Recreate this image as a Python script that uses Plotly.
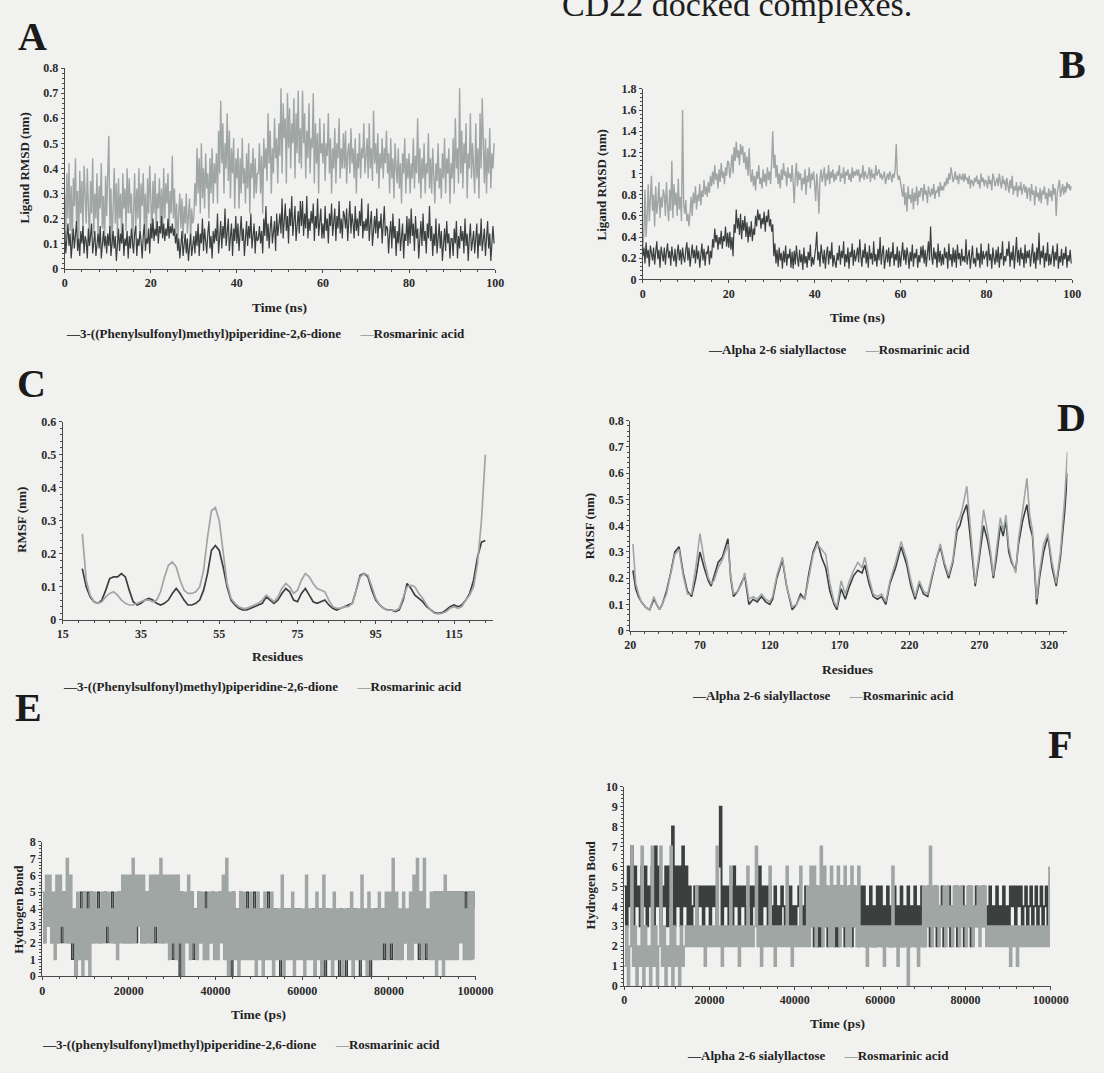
import plotly.graph_objects as go

W, H = 1104, 1073
DARK = "#3b3f3e"
LIGHT = "#a0a6a4"
PAGE = "#f1f1ef"
SERIF = "Liberation Serif"

# ---------------- A: ligand RMSD, CD22 small-molecule complexes (nm x 100, every 0.25 ns) ----------------
rmsd_a_phenyl = [
    15, 6, 12, 18, 9, 14, 4, 11, 16, 8, 13, 19, 7, 12, 5, 15, 10, 17, 6, 13,
    11, 4, 16, 9, 13, 18, 6, 12, 15, 5, 10, 14, 8, 17, 4, 12, 15, 9, 13, 6,
    14, 9, 17, 5, 12, 15, 8, 13, 3, 11, 16, 7, 14, 10, 18, 5, 12, 9, 15, 4,
    13, 8, 16, 11, 6, 14, 17, 5, 12, 9, 15, 11, 4, 13, 18, 7, 12, 10, 16, 6,
    18, 12, 20, 11, 16, 13, 19, 10, 17, 14, 21, 12, 18, 11, 16, 13, 20, 12, 17, 14,
    18, 13, 16, 10, 14, 7, 12, 4, 10, 15, 5, 11, 14, 6, 12, 3, 10, 14, 5, 11,
    13, 6, 15, 9, 18, 5, 14, 10, 20, 7, 16, 11, 6, 14, 19, 8, 13, 4, 15, 10,
    16, 11, 22, 6, 14, 19, 8, 17, 12, 24, 9, 15, 20, 7, 13, 18, 5, 16, 11, 21,
    10, 18, 7, 15, 21, 11, 16, 5, 13, 19, 9, 17, 12, 22, 8, 14, 18, 6, 15, 11,
    12, 17, 10, 15, 6, 20, 13, 25, 11, 18, 8, 16, 21, 10, 14, 19, 7, 22, 13, 17,
    22, 14, 28, 12, 19, 26, 15, 21, 10, 24, 17, 29, 13, 20, 25, 11, 18, 23, 14, 27,
    17, 27, 13, 22, 16, 29, 12, 20, 15, 23, 18, 26, 11, 21, 16, 28, 13, 19, 24, 12,
    18, 12, 25, 15, 20, 10, 22, 17, 26, 13, 19, 24, 11, 21, 16, 27, 14, 20, 12, 23,
    21, 16, 24, 11, 19, 27, 14, 22, 18, 12, 25, 15, 20, 13, 23, 17, 28, 12, 19, 15,
    20, 15, 26, 11, 18, 23, 9, 17, 21, 14, 24, 12, 19, 16, 22, 10, 18, 25, 13, 17,
    16, 6, 14, 19, 8, 22, 12, 17, 5, 15, 10, 20, 7, 13, 18, 4, 14, 11, 21, 9,
    20, 10, 24, 13, 18, 7, 21, 12, 16, 4, 14, 19, 9, 22, 11, 15, 6, 18, 12, 25,
    11, 17, 5, 14, 9, 20, 6, 13, 18, 8, 15, 3, 12, 16, 7, 19, 10, 14, 4, 12,
    12, 5, 16, 10, 19, 4, 13, 8, 17, 11, 15, 6, 20, 9, 14, 3, 12, 18, 7, 13,
    15, 6, 12, 18, 4, 14, 9, 20, 7, 13, 16, 5, 11, 19, 8, 14, 3, 12, 17, 10,
]
rmsd_a_rosmarinic = [
    30, 12, 38, 20, 42, 15, 33, 8, 36, 25, 44, 18, 31, 10, 39, 22, 35, 14, 41, 26,
    18, 40, 28, 10, 35, 22, 44, 14, 30, 20, 38, 12, 33, 24, 42, 16, 29, 8, 37, 21,
    38, 53, 16, 32, 9, 28, 40, 18, 34, 12, 36, 20, 30, 10, 38, 24, 32, 15, 40, 22,
    36, 22, 30, 8, 26, 38, 15, 32, 20, 40, 12, 34, 25, 38, 18, 30, 10, 36, 22, 41,
    28, 12, 35, 22, 38, 16, 30, 24, 36, 18, 32, 14, 40, 20, 34, 26, 38, 15, 31, 22,
    45, 20, 32, 14, 26, 10, 22, 30, 16, 28, 12, 25, 18, 30, 14, 22, 28, 11, 24, 18,
    20, 34, 25, 48, 30, 44, 22, 50, 28, 40, 24, 46, 32, 38, 20, 44, 30, 48, 26, 42,
    34, 46, 26, 55, 38, 67, 42, 58, 30, 50, 40, 62, 35, 55, 28, 48, 38, 52, 24, 44,
    36, 48, 24, 44, 30, 52, 34, 40, 26, 46, 32, 50, 22, 42, 36, 48, 28, 44, 30, 38,
    38, 50, 30, 45, 22, 52, 40, 48, 35, 62, 42, 55, 30, 48, 38, 60, 44, 52, 34, 58,
    45, 72, 38, 66, 52, 60, 34, 70, 48, 64, 40, 58, 50, 68, 36, 62, 46, 71, 42, 56,
    40, 71, 50, 62, 36, 55, 44, 66, 38, 52, 48, 70, 34, 58, 42, 54, 30, 60, 46, 50,
    42, 58, 35, 50, 45, 62, 38, 52, 30, 48, 40, 56, 34, 50, 44, 60, 36, 48, 40, 54,
    40, 55, 34, 46, 50, 38, 56, 42, 48, 36, 52, 30, 46, 40, 54, 36, 48, 44, 58, 38,
    44, 52, 36, 58, 40, 48, 35, 63, 42, 50, 38, 54, 32, 46, 40, 52, 36, 48, 42, 55,
    38, 46, 30, 52, 36, 44, 28, 50, 40, 34, 48, 32, 42, 26, 46, 38, 52, 30, 44, 36,
    46, 30, 42, 36, 52, 32, 45, 38, 60, 34, 48, 28, 44, 36, 50, 30, 42, 38, 54, 32,
    44, 30, 48, 38, 26, 42, 35, 50, 32, 40, 28, 46, 36, 52, 30, 44, 38, 48, 26, 42,
    36, 52, 30, 60, 40, 48, 34, 72, 38, 55, 32, 50, 42, 58, 28, 46, 40, 62, 36, 50,
    42, 30, 58, 36, 48, 28, 62, 40, 68, 44, 34, 52, 30, 48, 38, 56, 32, 46, 40, 50,
]

# ---------------- B: ligand RMSD, CD22 sialoside complexes (nm x 100, every 0.25 ns) ----------------
rmsd_b_sialyllactose = [
    22, 30, 15, 35, 20, 28, 12, 32, 25, 18, 30, 14, 26, 36, 19, 28, 11, 31, 24, 17,
    30, 14, 26, 34, 20, 27, 13, 31, 22, 17, 29, 12, 25, 33, 18, 28, 14, 30, 21, 16,
    28, 35, 18, 30, 12, 25, 33, 20, 28, 15, 32, 19, 27, 11, 24, 34, 18, 29, 13, 26,
    24, 32, 14, 27, 20, 38, 30, 48, 35, 42, 28, 40, 33, 46, 29, 41, 36, 50, 31, 44,
    30, 45, 28, 40, 22, 52, 44, 66, 48, 58, 42, 62, 38, 56, 46, 60, 40, 54, 35, 50,
    40, 55, 36, 48, 42, 60, 50, 66, 56, 62, 48, 58, 52, 64, 45, 60, 54, 66, 50, 57,
    45, 52, 22, 34, 15, 28, 12, 30, 18, 25, 10, 27, 16, 32, 13, 24, 20, 29, 11, 26,
    10, 27, 14, 32, 20, 12, 28, 16, 24, 9, 30, 15, 22, 11, 26, 18, 33, 12, 21, 14,
    22, 30, 45, 18, 26, 12, 33, 20, 15, 28, 10, 24, 31, 14, 27, 19, 35, 12, 23, 16,
    11, 25, 18, 32, 14, 27, 20, 36, 12, 24, 16, 30, 10, 26, 21, 34, 13, 28, 17, 23,
    30, 16, 38, 22, 12, 28, 20, 34, 15, 26, 11, 32, 19, 25, 14, 36, 17, 24, 12, 29,
    18, 40, 14, 25, 32, 10, 22, 28, 16, 30, 12, 26, 20, 35, 13, 24, 18, 31, 11, 27,
    12, 24, 35, 18, 28, 14, 30, 22, 10, 26, 17, 33, 12, 25, 20, 29, 11, 23, 16, 31,
    20, 32, 15, 28, 12, 24, 36, 18, 50, 22, 14, 30, 19, 26, 11, 34, 16, 27, 13, 24,
    14, 30, 20, 26, 10, 34, 18, 24, 12, 30, 16, 28, 11, 33, 19, 25, 13, 29, 17, 22,
    16, 38, 14, 22, 28, 10, 26, 32, 15, 20, 12, 30, 18, 25, 11, 34, 14, 27, 19, 23,
    27, 12, 34, 18, 24, 10, 30, 20, 14, 28, 16, 31, 11, 25, 19, 36, 13, 22, 17, 29,
    22, 36, 12, 26, 18, 32, 10, 24, 40, 16, 28, 13, 30, 19, 25, 11, 33, 15, 27, 20,
    28, 12, 22, 34, 15, 26, 10, 30, 18, 44, 14, 27, 20, 32, 11, 25, 17, 35, 13, 24,
    14, 24, 32, 12, 26, 18, 34, 10, 22, 16, 29, 13, 25, 19, 31, 11, 23, 17, 28, 15,
]
rmsd_b_rosmarinic = [
    30, 45, 85, 40, 60, 90, 55, 75, 98, 65, 80, 50, 88, 62, 72, 92, 58, 78, 68, 85,
    80, 60, 92, 70, 55, 85, 65, 112, 58, 90, 70, 82, 60, 95, 66, 78, 55, 160, 72, 62,
    75, 55, 62, 50, 68, 78, 60, 82, 72, 88, 66, 80, 74, 90, 70, 84, 78, 94, 80, 88,
    78, 92, 82, 98, 88, 102, 90, 108, 94, 100, 86, 104, 92, 110, 96, 102, 90, 106, 98, 112,
    110, 96, 105, 118, 100, 125, 112, 130, 115, 122, 108, 128, 118, 126, 110, 120, 104, 116, 98, 124,
    100, 92, 104, 88, 98, 84, 102, 95, 108, 90, 96, 86, 104, 92, 100, 88, 106, 94, 102, 90,
    112, 140, 105, 118, 96, 108, 90, 100, 86, 104, 94, 110, 98, 102, 88, 106, 96, 100, 92, 108,
    92, 72, 98, 110, 88, 102, 94, 100, 84, 96, 90, 104, 80, 98, 92, 106, 86, 100, 94, 102,
    90, 74, 100, 86, 62, 95, 104, 92, 98, 106, 88, 100, 94, 108, 90, 102, 96, 104, 92, 100,
    94, 102, 98, 108, 92, 100, 96, 106, 90, 102, 98, 104, 94, 100, 92, 106, 96, 102, 98, 104,
    98, 104, 92, 100, 96, 108, 94, 102, 98, 95, 100, 106, 92, 104, 96, 100, 94, 108, 98, 102,
    104, 96, 100, 94, 98, 102, 90, 96, 100, 94, 102, 98, 92, 100, 96, 104, 128, 100, 94, 98,
    92, 84, 78, 90, 70, 82, 64, 88, 76, 80, 72, 86, 66, 82, 74, 88, 70, 84, 78, 86,
    86, 74, 90, 80, 84, 72, 88, 82, 78, 86, 80, 90, 76, 84, 82, 88, 78, 92, 84, 88,
    84, 92, 88, 96, 90, 100, 94, 106, 98, 92, 96, 102, 94, 98, 90, 100, 96, 94, 100, 92,
    100, 94, 96, 90, 98, 86, 94, 92, 88, 96, 92, 98, 90, 94, 86, 100, 92, 96, 88, 94,
    92, 86, 98, 90, 94, 84, 100, 96, 88, 92, 96, 88, 100, 92, 86, 98, 90, 94, 84, 96,
    90, 82, 94, 86, 98, 80, 88, 84, 92, 78, 88, 84, 92, 80, 86, 90, 82, 88, 76, 86,
    86, 74, 90, 80, 84, 70, 88, 78, 82, 74, 86, 72, 84, 80, 88, 76, 82, 70, 86, 78,
    84, 74, 90, 80, 86, 60, 82, 88, 94, 78, 84, 90, 80, 88, 82, 92, 86, 90, 84, 88,
]

# ---------------- C: RMSF per residue (residues 20-123) ----------------
rmsf_c_start = 20
rmsf_c_phenyl = [
    0.155, 0.10, 0.07, 0.055, 0.05, 0.06, 0.09, 0.125, 0.13, 0.13,
    0.14, 0.13, 0.09, 0.055, 0.045, 0.05, 0.06, 0.065, 0.06, 0.05,
    0.045, 0.05, 0.06, 0.08, 0.095, 0.08, 0.06, 0.045, 0.045, 0.05,
    0.06, 0.09, 0.14, 0.21, 0.225, 0.21, 0.16, 0.10, 0.06, 0.045,
    0.035, 0.03, 0.03, 0.035, 0.04, 0.045, 0.05, 0.07, 0.06, 0.05,
    0.06, 0.08, 0.095, 0.085, 0.06, 0.055, 0.08, 0.095, 0.075, 0.055,
    0.05, 0.055, 0.06, 0.045, 0.035, 0.03, 0.035, 0.04, 0.045, 0.05,
    0.09, 0.135, 0.14, 0.13, 0.09, 0.06, 0.045, 0.035, 0.03, 0.03,
    0.025, 0.03, 0.06, 0.11, 0.095, 0.075, 0.065, 0.055, 0.04, 0.03,
    0.022, 0.02, 0.022, 0.03, 0.04, 0.045, 0.04, 0.045, 0.06, 0.08,
    0.12, 0.19, 0.235, 0.24,
]
rmsf_c_rosmarinic = [
    0.26, 0.12, 0.075, 0.055, 0.05, 0.055, 0.07, 0.08, 0.085, 0.075,
    0.06, 0.05, 0.045, 0.045, 0.05, 0.055, 0.06, 0.06, 0.055, 0.06,
    0.085, 0.13, 0.165, 0.175, 0.16, 0.12, 0.09, 0.08, 0.08, 0.085,
    0.10, 0.15, 0.25, 0.33, 0.34, 0.30, 0.20, 0.11, 0.065, 0.05,
    0.04, 0.035, 0.035, 0.04, 0.045, 0.05, 0.06, 0.075, 0.065, 0.055,
    0.07, 0.095, 0.11, 0.10, 0.08, 0.09, 0.12, 0.14, 0.13, 0.11,
    0.095, 0.09, 0.085, 0.06, 0.04, 0.035, 0.035, 0.04, 0.04, 0.05,
    0.09, 0.13, 0.14, 0.135, 0.10, 0.065, 0.045, 0.035, 0.03, 0.03,
    0.028, 0.035, 0.07, 0.10, 0.105, 0.10, 0.08, 0.065, 0.045, 0.03,
    0.02, 0.018, 0.02, 0.025, 0.035, 0.04, 0.035, 0.04, 0.06, 0.075,
    0.10, 0.17, 0.30, 0.50,
]

# ---------------- D: RMSF per residue ----------------
rmsf_d_residue = [
    22, 24, 26, 28, 31, 34, 37, 39, 41, 43,
    46, 49, 52, 55, 58, 61, 64, 67, 70, 73,
    76, 78, 80, 83, 86, 88, 90, 92, 94, 97,
    100, 102, 105, 108, 111, 114, 117, 120, 122, 125,
    129, 132, 136, 139, 142, 145, 148, 151, 154, 157,
    160, 163, 166, 168, 171, 174, 177, 180, 183, 186,
    188, 191, 194, 197, 200, 203, 206, 210, 214, 218,
    221, 224, 227, 230, 233, 236, 239, 242, 245, 248,
    251, 254, 256, 258, 261, 263, 265, 267, 270, 273,
    276, 278, 280, 282, 285, 287, 289, 291, 293, 296,
    298, 301, 304, 306, 308, 311, 313, 316, 319, 322,
    325, 328, 331, 333,
]
rmsf_d_sialyllactose = [
    0.23, 0.16, 0.13, 0.11, 0.09, 0.08, 0.12, 0.10, 0.08, 0.10,
    0.15, 0.22, 0.30, 0.32, 0.22, 0.15, 0.13, 0.20, 0.30, 0.24,
    0.19, 0.17, 0.21, 0.26, 0.28, 0.32, 0.35, 0.20, 0.13, 0.15,
    0.19, 0.21, 0.10, 0.12, 0.11, 0.13, 0.11, 0.10, 0.12, 0.20,
    0.27, 0.17, 0.08, 0.10, 0.14, 0.12, 0.22, 0.30, 0.34, 0.28,
    0.24, 0.15, 0.10, 0.08, 0.16, 0.12, 0.17, 0.21, 0.23, 0.22,
    0.25, 0.18, 0.13, 0.12, 0.13, 0.10, 0.18, 0.24, 0.32, 0.25,
    0.17, 0.12, 0.18, 0.14, 0.13, 0.20, 0.27, 0.32, 0.25, 0.20,
    0.26, 0.38, 0.40, 0.44, 0.48, 0.38, 0.26, 0.17, 0.28, 0.40,
    0.34, 0.28, 0.20, 0.27, 0.40, 0.36, 0.42, 0.30, 0.26, 0.23,
    0.33, 0.42, 0.48, 0.40, 0.36, 0.10, 0.20, 0.30, 0.36, 0.24,
    0.17, 0.28, 0.45, 0.60,
]
rmsf_d_rosmarinic = [
    0.33, 0.18, 0.14, 0.11, 0.09, 0.08, 0.13, 0.10, 0.08, 0.10,
    0.14, 0.21, 0.29, 0.31, 0.21, 0.14, 0.14, 0.24, 0.37, 0.27,
    0.20, 0.18, 0.19, 0.24, 0.27, 0.30, 0.33, 0.21, 0.14, 0.15,
    0.18, 0.22, 0.12, 0.13, 0.12, 0.14, 0.12, 0.11, 0.13, 0.21,
    0.28, 0.17, 0.09, 0.10, 0.13, 0.12, 0.21, 0.29, 0.33, 0.31,
    0.29, 0.18, 0.11, 0.09, 0.19, 0.14, 0.19, 0.23, 0.26, 0.24,
    0.28, 0.20, 0.14, 0.13, 0.14, 0.11, 0.19, 0.26, 0.34, 0.27,
    0.19, 0.13, 0.19, 0.15, 0.14, 0.21, 0.27, 0.33, 0.26, 0.21,
    0.27, 0.41, 0.43, 0.47, 0.55, 0.42, 0.28, 0.18, 0.30, 0.46,
    0.37, 0.30, 0.21, 0.29, 0.43, 0.38, 0.44, 0.32, 0.27, 0.22,
    0.35, 0.46, 0.58, 0.44, 0.38, 0.12, 0.22, 0.33, 0.37, 0.26,
    0.18, 0.30, 0.50, 0.68,
]

# ---------------- E: hydrogen bonds, small-molecule complexes (every 400 ps) ----------------
hb_e_phenyl = [
    4, 2, 5, 3, 5, 2, 4, 3, 5, 2, 4, 2, 5, 3, 5, 2, 4, 1, 3, 0, 4, 1, 5, 4, 5,
    4, 5, 3, 5, 2, 4, 3, 5, 2, 4, 3, 5, 2, 4, 3, 5, 2, 4, 2, 5, 3, 4, 2, 3, 2,
    4, 2, 5, 3, 2, 3, 4, 2, 3, 2, 5, 3, 4, 2, 3, 2, 4, 3, 5, 2, 4, 3, 5, 2, 4,
    1, 5, 2, 4, 0, 5, 2, 4, 3, 5, 2, 5, 1, 4, 2, 5, 2, 4, 3, 5, 2, 4, 2, 5, 2,
    4, 2, 5, 3, 4, 1, 5, 2, 4, 0, 5, 2, 4, 1, 5, 2, 4, 1, 5, 2, 4, 1, 5, 2, 4,
    2, 4, 1, 4, 2, 5, 1, 3, 2, 4, 1, 3, 0, 4, 2, 4, 1, 4, 2, 3, 1, 4, 2, 4, 1,
    3, 1, 4, 2, 3, 1, 4, 0, 3, 1, 4, 0, 3, 0, 4, 1, 3, 0, 4, 1, 3, 0, 4, 1, 3,
    0, 4, 1, 3, 0, 4, 1, 3, 0, 4, 1, 3, 1, 4, 0, 3, 1, 4, 1, 3, 1, 4, 1, 3, 1,
    4, 1, 3, 2, 4, 1, 3, 1, 4, 2, 3, 1, 2, 1, 5, 2, 4, 1, 5, 2, 4, 1, 3, 1, 4,
    4, 5, 3, 5, 4, 5, 2, 5, 4, 5, 3, 5, 4, 5, 3, 5, 4, 5, 4, 5, 3, 5, 4, 5, 4,
]
hb_e_rosmarinic = [
    5, 2, 6, 3, 6, 2, 5, 1, 6, 2, 6, 3, 5, 2, 7, 2, 6, 2, 4, 0, 5, 1, 4, 0, 5,
    1, 4, 0, 5, 2, 5, 2, 4, 2, 5, 2, 5, 3, 5, 2, 4, 2, 5, 1, 5, 2, 6, 2, 6, 2,
    6, 2, 7, 2, 6, 3, 6, 2, 6, 2, 5, 2, 6, 2, 6, 3, 6, 2, 7, 2, 6, 2, 6, 1, 6,
    2, 6, 1, 6, 2, 5, 0, 5, 2, 6, 1, 5, 2, 4, 1, 5, 2, 5, 1, 4, 1, 5, 2, 5, 1,
    5, 1, 5, 2, 6, 1, 7, 0, 5, 1, 5, 1, 4, 0, 5, 1, 5, 1, 4, 1, 5, 1, 4, 0, 5,
    1, 4, 0, 5, 1, 4, 1, 5, 0, 4, 1, 4, 1, 6, 0, 4, 1, 4, 1, 5, 0, 4, 1, 4, 1,
    4, 0, 6, 1, 4, 1, 4, 0, 5, 1, 4, 0, 6, 1, 4, 1, 4, 0, 5, 1, 4, 1, 4, 0, 4,
    1, 4, 1, 5, 0, 4, 1, 4, 1, 6, 1, 4, 0, 5, 1, 4, 1, 4, 1, 5, 1, 4, 2, 5, 1,
    5, 2, 7, 1, 5, 1, 4, 1, 5, 2, 4, 1, 5, 1, 6, 2, 7, 2, 5, 1, 7, 2, 4, 1, 5,
    1, 5, 0, 5, 1, 5, 0, 6, 1, 5, 1, 5, 1, 5, 1, 5, 2, 5, 1, 4, 1, 5, 1, 5, 1,
]

# ---------------- F: hydrogen bonds, sialoside complexes (every 400 ps) ----------------
hb_f_sialyllactose = [
    5, 3, 6, 4, 7, 3, 6, 4, 5, 3, 6, 4, 6, 3, 5, 4, 6, 3, 7, 4, 6, 3, 5, 4, 6,
    3, 6, 4, 8, 3, 6, 4, 6, 3, 7, 4, 6, 3, 5, 3, 4, 5, 3, 5, 4, 5, 3, 5, 4, 5,
    3, 5, 4, 5, 3, 6, 9, 3, 5, 4, 5, 3, 5, 3, 6, 4, 5, 3, 5, 4, 5, 3, 4, 5, 3,
    5, 4, 5, 3, 6, 3, 5, 4, 5, 3, 5, 4, 3, 5, 3, 4, 3, 5, 4, 3, 4, 3, 5, 3, 4,
    3, 4, 5, 3, 4, 3, 5, 3, 4, 3, 5, 2, 5, 2, 4, 2, 5, 3, 5, 2, 4, 3, 5, 2, 5,
    2, 5, 3, 5, 2, 4, 3, 5, 2, 5, 3, 4, 2, 5, 3, 5, 2, 4, 3, 5, 2, 4, 2, 5, 3,
    5, 2, 4, 3, 5, 2, 4, 2, 5, 3, 4, 2, 5, 2, 4, 3, 5, 2, 4, 3, 5, 2, 4, 3, 5,
    2, 4, 3, 5, 2, 4, 3, 5, 2, 4, 3, 5, 2, 4, 3, 5, 2, 4, 3, 5, 2, 4, 3, 5, 2,
    4, 3, 5, 2, 4, 3, 5, 3, 4, 3, 5, 3, 4, 3, 5, 3, 4, 3, 5, 3, 4, 3, 5, 3, 4,
    3, 5, 4, 5, 3, 5, 4, 5, 3, 4, 5, 3, 4, 5, 3, 4, 5, 3, 4, 5, 3, 4, 5, 3, 2,
]
hb_f_rosmarinic = [
    1, 3, 0, 2, 7, 1, 3, 0, 2, 1, 7, 0, 3, 1, 2, 0, 7, 1, 3, 0, 2, 7, 1, 3, 0,
    2, 1, 7, 0, 3, 1, 2, 0, 3, 1, 2, 3, 2, 3, 2, 3, 2, 5, 2, 3, 2, 3, 1, 3, 2,
    3, 2, 3, 2, 7, 2, 3, 1, 3, 2, 3, 2, 6, 2, 3, 2, 3, 1, 3, 2, 3, 2, 6, 2, 3,
    2, 3, 7, 2, 3, 1, 3, 2, 3, 2, 6, 2, 3, 1, 3, 2, 3, 2, 3, 2, 6, 2, 3, 1, 3,
    2, 3, 2, 6, 2, 3, 2, 5, 2, 6, 3, 6, 2, 5, 3, 7, 2, 6, 3, 5, 2, 6, 2, 5, 3,
    6, 2, 5, 3, 6, 2, 5, 2, 6, 3, 5, 2, 6, 2, 3, 2, 3, 1, 3, 2, 3, 2, 3, 2, 3,
    2, 3, 1, 3, 2, 3, 2, 6, 2, 3, 1, 3, 2, 3, 2, 3, 0, 3, 2, 3, 2, 3, 1, 3, 2,
    5, 2, 5, 3, 7, 2, 5, 3, 5, 2, 4, 3, 5, 2, 5, 3, 4, 2, 5, 3, 5, 2, 5, 3, 4,
    2, 5, 3, 5, 2, 4, 3, 5, 2, 5, 3, 5, 2, 3, 2, 3, 2, 3, 2, 3, 2, 3, 2, 3, 2,
    3, 1, 3, 2, 3, 1, 3, 2, 3, 2, 3, 2, 3, 2, 3, 2, 3, 2, 3, 2, 3, 2, 3, 2, 6,
]

NAME_PHENYL = "3-((Phenylsulfonyl)methyl)piperidine-2,6-dione"
NAME_PHENYL_LC = "3-((phenylsulfonyl)methyl)piperidine-2,6-dione"
NAME_SIAL = "Alpha 2-6 sialyllactose"
NAME_ROS = "Rosmarinic acid"

time_ns = [i * 0.25 for i in range(len(rmsd_a_phenyl))]
time_ps = [i * 400 for i in range(len(hb_e_phenyl))]
res_c = [rmsf_c_start + i for i in range(len(rmsf_c_phenyl))]

fig = go.Figure()


def dom_x(a, b):
    return [a / W, b / W]


def dom_y(top, bottom):
    return [1 - bottom / H, 1 - top / H]


def px(x, y):
    return x / W, 1 - y / H


def add_line(idx, x, y, color, name, width=1.0, shape="linear"):
    fig.add_trace(go.Scatter(
        x=x, y=y, mode="lines", name=name, showlegend=False,
        line=dict(color=color, width=width, shape=shape),
        xaxis="x" if idx == 1 else f"x{idx}",
        yaxis="y" if idx == 1 else f"y{idx}",
        hoverinfo="skip",
    ))


# A
add_line(1, time_ns, [v / 100 for v in rmsd_a_rosmarinic], LIGHT, NAME_ROS, 1.4)
add_line(1, time_ns, [v / 100 for v in rmsd_a_phenyl], DARK, NAME_PHENYL, 1.2)
# B
add_line(2, time_ns, [v / 100 for v in rmsd_b_rosmarinic], LIGHT, NAME_ROS, 1.4)
add_line(2, time_ns, [v / 100 for v in rmsd_b_sialyllactose], DARK, NAME_SIAL, 1.2)
# C
add_line(3, res_c, rmsf_c_phenyl, DARK, NAME_PHENYL, 1.7)
add_line(3, res_c, rmsf_c_rosmarinic, LIGHT, NAME_ROS, 1.7)
# D
add_line(4, rmsf_d_residue, rmsf_d_sialyllactose, DARK, NAME_SIAL, 1.6)
add_line(4, rmsf_d_residue, rmsf_d_rosmarinic, LIGHT, NAME_ROS, 1.6)
# E
add_line(5, time_ps, hb_e_phenyl, DARK, NAME_PHENYL_LC, 1.4, "hv")
add_line(5, time_ps, hb_e_rosmarinic, LIGHT, NAME_ROS, 1.8, "hv")
# F
add_line(6, time_ps, hb_f_sialyllactose, DARK, NAME_SIAL, 1.9, "hv")
add_line(6, time_ps, hb_f_rosmarinic, LIGHT, NAME_ROS, 1.9, "hv")

tick_font = dict(family=SERIF, size=12, color="#2a2a2a", weight="bold")
axis_base = dict(
    showline=True, linecolor="#4a4a4a", linewidth=1, showgrid=False, zeroline=False,
    ticks="outside", ticklen=3, tickcolor="#4a4a4a", tickfont=tick_font,
)

panels = [
    dict(xd=(60, 500), yd=(62, 265), xr=[0, 100], x0=0, xdt=20, xm=4, yr=[0, 0.8], ydt=0.1, ym=0.02, fmt=None),
    dict(xd=(651, 1090), yd=(83, 276), xr=[0, 100], x0=0, xdt=20, xm=4, yr=[0, 1.8], ydt=0.2, ym=0.04, fmt=None),
    dict(xd=(58, 498), yd=(420, 621), xr=[15, 125], x0=15, xdt=20, xm=4, yr=[0, 0.6], ydt=0.1, ym=0.02, fmt=None),
    dict(xd=(638, 1085), yd=(419, 632), xr=[20, 333], x0=20, xdt=50, xm=10, yr=[0, 0.8], ydt=0.1, ym=0.02, fmt=None),
    dict(xd=(37, 480), yd=(846, 982), xr=[0, 100000], x0=0, xdt=20000, xm=4000, yr=[0, 8], ydt=1, ym=0.2, fmt="d"),
    dict(xd=(632, 1068), yd=(790, 992), xr=[0, 100000], x0=0, xdt=20000, xm=4000, yr=[0, 10], ydt=1, ym=0.2, fmt="d"),
]

layout_axes = {}
for i, p in enumerate(panels, start=1):
    xk = "xaxis" if i == 1 else f"xaxis{i}"
    yk = "yaxis" if i == 1 else f"yaxis{i}"
    xa = dict(axis_base)
    xa.update(domain=dom_x(*p["xd"]), range=p["xr"], tickmode="linear", tick0=p["x0"], dtick=p["xdt"],
              anchor="y" if i == 1 else f"y{i}",
              minor=dict(ticks="outside", ticklen=2, tickcolor="#4a4a4a", tick0=p["x0"], dtick=p["xm"]))
    if p["fmt"]:
        xa["tickformat"] = p["fmt"]
    ya = dict(axis_base)
    ya.update(domain=dom_y(*p["yd"]), range=p["yr"], tickmode="linear", tick0=0, dtick=p["ydt"],
              anchor="x" if i == 1 else f"x{i}",
              minor=dict(ticks="outside", ticklen=2, tickcolor="#4a4a4a", tick0=0, dtick=p["ym"]))
    layout_axes[xk] = xa
    layout_axes[yk] = ya

annotations = []


def text_at(x, y, text, size=11, bold=True, angle=0, color="#222222", xanchor="center", yanchor="middle"):
    ax, ay = px(x, y)
    annotations.append(dict(
        x=ax, y=ay, xref="paper", yref="paper", text=text, showarrow=False,
        textangle=angle, xanchor=xanchor, yanchor=yanchor,
        font=dict(family=SERIF, size=size, color=color, weight="bold" if bold else "normal"),
    ))


# page heading (runs off the top edge of the page)
text_at(566, 18, "CD22 docked complexes.", size=34, bold=False, color="#1e1e1e",
        xanchor="left", yanchor="bottom")

# panel letters
for letter, (lx, ly) in {"A": (27, 30), "B": (1090, 58), "C": (26, 381),
                         "D": (1089, 416), "E": (23, 710), "F": (1077, 747)}.items():
    text_at(lx, ly, letter, size=40, bold=True, color="#1a1a1a")

# axis titles
for t, (x, y) in [("Time (ns)", (280, 304)), ("Time (ns)", (870, 315)),
                  ("Residues", (278, 658)), ("Residues", (860, 671)),
                  ("Time (ps)", (258, 1021)), ("Time (ps)", (850, 1030))]:
    text_at(x, y, t, size=13.5)
for t, (x, y) in [("Ligand RMSD (nm)", (19, 163)), ("Ligand RMSD (nm)", (609, 180)),
                  ("RMSF (nm)", (16, 520)), ("RMSF (nm)", (596, 526)),
                  ("Hydrogen Bond", (12, 914)), ("Hydrogen Bond", (597, 890))]:
    text_at(x, y, t, size=13, angle=-90)

# legends
GAP = "\u00a0" * 6


def legend_text(first):
    return (f"<span style='color:{DARK}'>\u2014</span>{first}{GAP}"
            f"<span style='color:{LIGHT}'>\u2014</span>{NAME_ROS}")


text_at(265, 331, legend_text(NAME_PHENYL), size=13)
text_at(851, 347, legend_text(NAME_SIAL), size=13)
text_at(262, 688, legend_text(NAME_PHENYL), size=13)
text_at(835, 698, legend_text(NAME_SIAL), size=13)
text_at(240, 1051, legend_text(NAME_PHENYL_LC), size=13)
text_at(830, 1062, legend_text(NAME_SIAL), size=13)

fig.update_layout(
    width=W, height=H, margin=dict(l=0, r=0, t=0, b=0),
    paper_bgcolor=PAGE, plot_bgcolor=PAGE,
    showlegend=False, annotations=annotations, **layout_axes,
)

fig.write_html("out.html")
